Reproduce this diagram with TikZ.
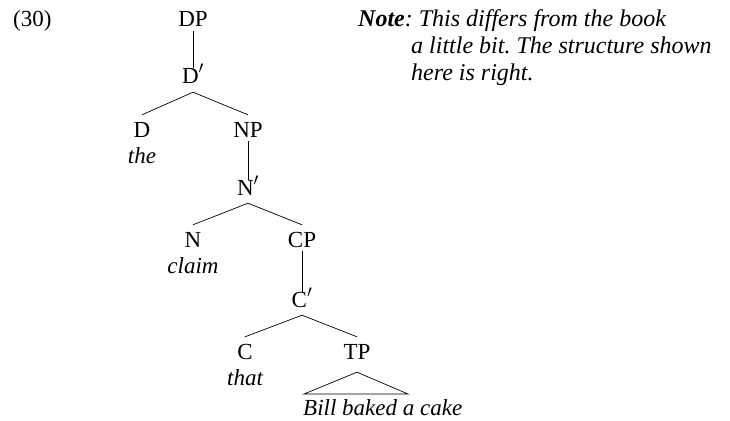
\documentclass[tikz,border=0pt]{standalone}
\usepackage{fontspec}
\setmainfont{Liberation Serif}
\frenchspacing
\newcommand\treesize{\fontsize{23}{27}\selectfont}
\newcommand\notesize{\fontsize{24}{27}\selectfont}
\begin{document}
\begin{tikzpicture}[x=1pt,y=-1pt,
  lab/.style={inner sep=0pt, text height=15pt, text depth=4pt, anchor=base, font=\treesize},
  word/.style={inner sep=0pt, anchor=base, font=\treesize\itshape},
  note/.style={inner sep=0pt, anchor=base west, font=\notesize\itshape},
  branch/.style={line width=0.7pt}]
\useasboundingbox (0,0) rectangle (730,420);

% example number
\node[inner sep=0pt, anchor=base west, font=\treesize] (num) at (13,27) {(30)};

% tree labels
\node[lab] (DP)   at (193,27)  {DP};
\node[lab] (Dbar) at (193,83)  {D$'$};
\node[lab] (D)    at (142,137) {D};
\node[word] (the) at (142,163) {the};
\node[lab] (NP)   at (248,137) {NP};
\node[lab] (Nbar) at (248,195) {N$'$};
\node[lab] (N)    at (193,247) {N};
\node[word] (claim) at (193,273) {claim};
\node[lab] (CP)   at (302,247) {CP};
\node[lab] (Cbar) at (302,307) {C$'$};
\node[lab] (C)    at (245,359) {C};
\node[word] (that) at (245,385) {that};
\node[lab] (TP)   at (357,359) {TP};
\node[word, anchor=base west] (BBC) at (303,415) {Bill baked a cake};

% unary branches
\draw[branch] (DP.south) -- (Dbar.north);
\draw[branch] (NP.south) -- (Nbar.north);
\draw[branch] (CP.south) -- (Cbar.north);

% binary branches
\draw[branch] ([yshift=7pt]D.north) -- ([yshift=-5pt]Dbar.south) -- ([yshift=7pt]NP.north);
\draw[branch] ([yshift=7pt]N.north) -- ([yshift=-4pt]Nbar.south) -- ([yshift=7pt]CP.north);
\draw[branch] ([yshift=7pt]C.north) -- ([yshift=-4pt]Cbar.south) -- ([yshift=7pt]TP.north);

% roof over the TP
\coordinate (roofL) at ([xshift=1pt,yshift=21pt]BBC.base west);
\coordinate (roofR) at ([xshift=104pt]roofL);
\draw[branch] ([yshift=-9pt]TP.south) -- (roofR) -- (roofL) -- cycle;

% side note
\node[note] (note1) at (358,27) {\textbf{Note}: This differs from the book};
\node[note] (note2) at (411,54) {a little bit. The structure shown};
\node[note] (note3) at (411,81) {here is right.};
\end{tikzpicture}
\end{document}
